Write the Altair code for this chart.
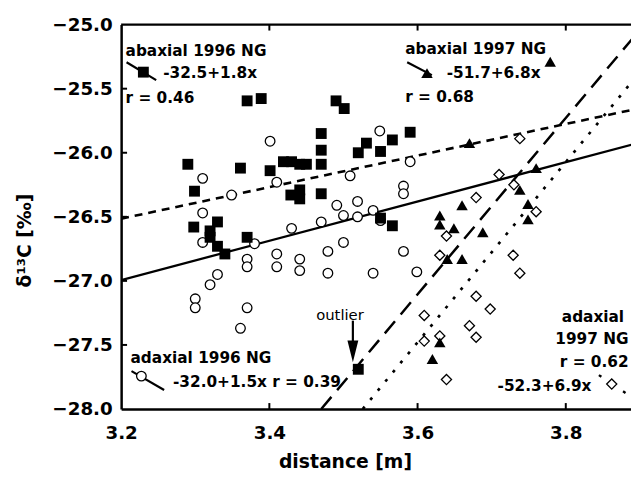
import altair as alt
import pandas as pd

# ---------------- data ----------------
# abaxial 1996 NG (filled squares)
ab96_x = [3.290, 3.299, 3.298, 3.330, 3.320, 3.320, 3.330, 3.340, 3.370, 3.361,
          3.370, 3.389, 3.401, 3.419, 3.430, 3.441, 3.450, 3.429, 3.441, 3.441,
          3.470, 3.470, 3.470, 3.470, 3.490, 3.501, 3.531, 3.520, 3.550, 3.566,
          3.590, 3.550, 3.566, 3.520]
ab96_y = [-26.09, -26.30, -26.58, -26.54, -26.61, -26.66, -26.73, -26.79, -26.66, -26.12,
          -25.595, -25.577, -26.14, -26.07, -26.07, -26.09, -26.09, -26.33, -26.29, -26.36,
          -25.85, -25.98, -26.09, -26.32, -25.595, -25.655, -25.925, -26.00, -25.99, -25.90,
          -25.84, -26.51, -26.57, -27.69]

# adaxial 1996 NG (open circles)
ad96_x = [3.401, 3.549, 3.310, 3.349, 3.410, 3.509, 3.310, 3.310, 3.380, 3.370,
          3.370, 3.330, 3.320, 3.300, 3.300, 3.370, 3.361, 3.430, 3.410, 3.410,
          3.441, 3.441, 3.470, 3.479, 3.479, 3.491, 3.500, 3.500, 3.519, 3.519,
          3.540, 3.540, 3.550, 3.590, 3.581, 3.581, 3.581, 3.599]
ad96_y = [-25.91, -25.83, -26.20, -26.33, -26.23, -26.18, -26.47, -26.70, -26.71, -26.83,
          -26.89, -26.95, -27.03, -27.14, -27.21, -27.21, -27.37, -26.59, -26.79, -26.89,
          -26.83, -26.92, -26.54, -26.77, -26.94, -26.41, -26.49, -26.70, -26.38, -26.50,
          -26.45, -26.94, -26.53, -26.07, -26.26, -26.32, -26.77, -26.93]

# abaxial 1997 NG (filled triangles)
ab97_x = [3.779, 3.670, 3.760, 3.738, 3.749, 3.749, 3.660, 3.630, 3.630, 3.649,
          3.688, 3.640, 3.660, 3.630, 3.620]
ab97_y = [-25.29, -25.925, -26.12, -26.29, -26.40, -26.52, -26.41, -26.49, -26.56, -26.59,
          -26.62, -26.83, -26.83, -27.48, -27.61]

# adaxial 1997 NG (open diamonds)
ad97_x = [3.738, 3.710, 3.730, 3.679, 3.760, 3.639, 3.630, 3.729, 3.738, 3.679,
          3.698, 3.609, 3.670, 3.679, 3.609, 3.630, 3.639]
ad97_y = [-25.89, -26.17, -26.25, -26.35, -26.46, -26.65, -26.80, -26.80, -26.94, -27.12,
          -27.22, -27.27, -27.35, -27.44, -27.47, -27.43, -27.77]

# regression lines (end points as drawn)
ab96_line_x = [3.2, 3.9]
ab96_line_y = [-26.515, -25.652]
ad96_line_x = [3.2, 3.9]
ad96_line_y = [-26.994, -25.92]
ab97_line_x = [3.47, 3.9]
ab97_line_y = [-28.0, -25.04]
ad97_line_x = [3.526, 3.9]
ad97_line_y = [-28.0, -25.37]

x_ticks = [3.2, 3.4, 3.6, 3.8]
y_ticks = [-28.0, -27.5, -27.0, -26.5, -26.0, -25.5, -25.0]

# annotations
bold_left_text = ["abaxial 1996 NG", "-32.5+1.8x", "r = 0.46",
                  "abaxial 1997 NG", "-51.7+6.8x", "r = 0.68",
                  "adaxial 1996 NG", "-32.0+1.5x r = 0.39"]
bold_left_x = [3.206, 3.2567, 3.206, 3.5833, 3.6393, 3.5833, 3.2127, 3.270]
bold_left_y = [-25.2087, -25.3787, -25.5719, -25.1932, -25.3787, -25.5641, -27.6043, -27.7898]

bold_right_text = ["adaxial", "1997 NG", "r = 0.62"]
bold_right_x = [3.8787, 3.8847, 3.8847]
bold_right_y = [-27.2798, -27.4575, -27.6352]

bold_center_text = ["-52.3+6.9x"]
bold_center_x = [3.7713]
bold_center_y = [-27.8207]

outlier_text = ["outlier"]
outlier_x = [3.4953]
outlier_y = [-27.2643]
arrow_x = [3.5127, 3.5127]
arrow_y = [-27.3107, -27.5348]
arrow_head_x = [3.5127]
arrow_head_y = [-27.5502]

# legend glyphs
leg_ab96_seg_x = [3.2073, 3.2473]
leg_ab96_seg_y = [-25.2937, -25.4328]
leg_ab96_pt = (3.2300, -25.3709)
leg_ab97_seg_x = [3.5860, 3.6193]
leg_ab97_seg_y = [-25.2937, -25.3941]
leg_ab97_pt = (3.6127, -25.3787)
leg_ad96_seg_x = [3.2140, 3.2580]
leg_ad96_seg_y = [-27.7048, -27.8516]
leg_ad96_pt = (3.2273, -27.7434)
leg_ad97_seg_x = [3.8447, 3.8807]
leg_ad97_seg_y = [-27.7357, -27.8748]
leg_ad97_pt = (3.8620, -27.8053)

# ---------------- chart ----------------
W, H = 516, 389
FONT = "DejaVu Sans"
ANN = 15.5
xs = alt.Scale(domain=[3.2, 3.888], nice=False, zero=False)
ys = alt.Scale(domain=[-28.0, -25.0], nice=False, zero=False)

x_axis = alt.Axis(values=x_ticks, format=".1f", ticks=False, tickSize=0,
                  grid=False, domainColor="black", domainWidth=2.5,
                  labelFont=FONT, labelFontWeight="bold", labelFontSize=18.5,
                  labelColor="black", labelPadding=15, labelFlush=False,
                  title="distance [m]", titleFont=FONT, titleFontWeight="bold",
                  titleFontSize=19, titleColor="black",
                  titleX=226.5, titleY=59, titleAnchor="middle",
                  titleAlign="center", titleBaseline="alphabetic")
y_axis = alt.Axis(values=y_ticks, format=".1f", ticks=False, tickSize=0,
                  grid=False, domainColor="black", domainWidth=2.5,
                  labelFont=FONT, labelFontWeight="bold", labelFontSize=18.5,
                  labelColor="black", labelPadding=9, labelFlush=False,
                  title="δ¹³C [‰]", titleFont=FONT, titleFontWeight="bold",
                  titleFontSize=19, titleColor="black",
                  titleX=-97.5, titleY=218, titleAnchor="middle",
                  titleAlign="center", titleBaseline="middle")

X = alt.X("x:Q", scale=xs, axis=x_axis)
Y = alt.Y("y:Q", scale=ys, axis=y_axis)


def df(x, y):
    return pd.DataFrame({"x": x, "y": y})


top_border = alt.Chart(df([3.2], [-25.0])).mark_rule(color="black", strokeWidth=2.5).encode(
    x=alt.value(0), x2=alt.value(W), y=alt.value(0))

xt_bottom = alt.Chart(df(x_ticks[1:], [-28.0] * 3)).mark_rule(color="black", strokeWidth=2).encode(
    x=X, y=alt.value(H), y2=alt.value(H - 6))
xt_top = alt.Chart(df(x_ticks[1:], [-25.0] * 3)).mark_rule(color="black", strokeWidth=2).encode(
    x=X, y=alt.value(0), y2=alt.value(6))
yt_left = alt.Chart(df([3.2] * 5, y_ticks[1:-1])).mark_rule(color="black", strokeWidth=2).encode(
    y=Y, x=alt.value(0), x2=alt.value(6))


def line(xv, yv, dash=None, width=2.2):
    kw = dict(color="black", strokeWidth=width, clip=True)
    if dash:
        kw["strokeDash"] = dash
    return alt.Chart(df(xv, yv)).mark_line(**kw).encode(x=X, y=Y)


l_ab96 = line(ab96_line_x, ab96_line_y, [8, 6], 2.6)
l_ad96 = line(ad96_line_x, ad96_line_y, None, 2.3)
l_ab97 = line(ab97_line_x, ab97_line_y, [16, 9], 2.5)
l_ad97 = line(ad97_line_x, ad97_line_y, [3, 9], 2.7)

g_ab96 = line(leg_ab96_seg_x, leg_ab96_seg_y, None, 2.2)
g_ab97 = line(leg_ab97_seg_x, leg_ab97_seg_y, None, 2.2)
g_ad96 = line(leg_ad96_seg_x, leg_ad96_seg_y, None, 2.2)
g_ad97 = line(leg_ad97_seg_x, leg_ad97_seg_y, [3, 26.4], 2.4)
arrow = line(arrow_x, arrow_y, None, 2.2)


def pts(xv, yv, shape, size, filled):
    if filled:
        m = alt.Chart(df(xv, yv)).mark_point(shape=shape, size=size, filled=True,
                                              color="black", opacity=1, strokeWidth=0)
    else:
        m = alt.Chart(df(xv, yv)).mark_point(shape=shape, size=size, filled=True,
                                              fill="white", stroke="black",
                                              strokeWidth=1.3, opacity=1)
    return m.encode(x=X, y=Y)


p_ad96 = pts(ad96_x + [leg_ad96_pt[0]], ad96_y + [leg_ad96_pt[1]], "circle", 95, False)
p_ab96 = pts(ab96_x + [leg_ab96_pt[0]], ab96_y + [leg_ab96_pt[1]], "square", 121, True)
p_ad97 = pts(ad97_x + [leg_ad97_pt[0]], ad97_y + [leg_ad97_pt[1]], "diamond", 105, False)
p_ab97 = pts(ab97_x + [leg_ab97_pt[0]], ab97_y + [leg_ab97_pt[1]], "triangle-up", 135, True)

head = alt.Chart(df(arrow_head_x, arrow_head_y)).mark_point(
    shape="M-0.5,-1L0,1L0.5,-1Z", size=484, filled=True, color="black",
    opacity=1, strokeWidth=0).encode(x=X, y=Y)


def texts(tx, xv, yv, align, weight="bold", size=ANN):
    return alt.Chart(pd.DataFrame({"x": xv, "y": yv, "t": tx})).mark_text(
        align=align, baseline="middle", font=FONT, fontWeight=weight,
        fontSize=size, color="black").encode(x=X, y=Y, text="t:N")


t_left = texts(bold_left_text, bold_left_x, bold_left_y, "left")
t_right = texts(bold_right_text, bold_right_x, bold_right_y, "right")
t_center = texts(bold_center_text, bold_center_x, bold_center_y, "center")
t_out = texts(outlier_text, outlier_x, outlier_y, "center", "normal", 15)

chart = alt.layer(
    top_border, xt_bottom, xt_top, yt_left,
    l_ab96, l_ad96, l_ab97, l_ad97,
    g_ab96, g_ab97, g_ad96, g_ad97, arrow,
    p_ad96, p_ab96, p_ad97, p_ab97, head,
    t_left, t_right, t_center, t_out,
).properties(
    width=W, height=H,
    autosize=alt.AutoSizeParams(type="none"),
    padding={"left": 114.5, "top": 14, "right": 0, "bottom": 66},
    background="white",
).configure_view(stroke=None)

chart.save("out.html", embed_options={"renderer": "svg", "actions": False})
